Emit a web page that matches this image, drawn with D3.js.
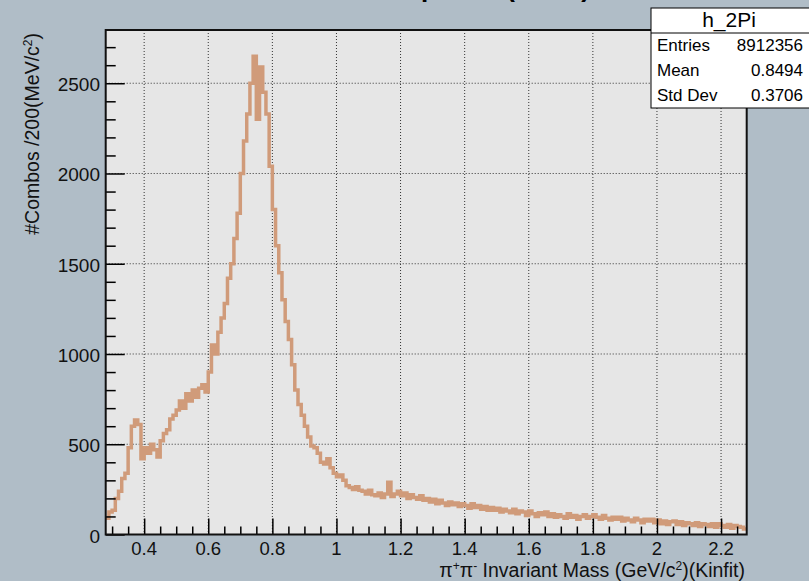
<!DOCTYPE html>
<html>
<head>
<meta charset="utf-8">
<script src="https://cdn.jsdelivr.net/npm/d3@7"></script>
<style>
  body { margin: 0; background: #b0bdc7; }
  svg { display: block; font-family: 'Liberation Sans', Arial, sans-serif; }
</style>
</head>
<body>
<div id="chart"></div>
<script>
// histogram h_2Pi, 200 bins of 0.01 GeV from 0.28 to 2.28
var binStart = 0.28
var binWidth = 0.01
var counts = [
  90, 125, 135, 200, 240, 310, 340, 480, 600, 635,
  610, 420, 480, 450, 500, 470, 430, 520, 560, 580,
  640, 660, 690, 740, 700, 780, 740, 800, 760, 810,
  830, 790, 900, 1050, 1000, 1120, 1200, 1280, 1420, 1500,
  1640, 1780, 2000, 2180, 2330, 2500, 2650, 2300, 2590, 2450,
  2330, 2040, 1800, 1600, 1450, 1300, 1180, 1080, 940, 800,
  720, 660, 600, 540, 490, 480, 450, 400, 390, 420,
  370, 340, 320, 330, 300, 270, 260, 250, 265, 245,
  240, 225, 245, 220, 215, 230, 205, 225, 290, 210,
  225, 240, 215, 230, 200, 220, 205, 195, 215, 190,
  200, 180, 195, 170, 190, 175, 160, 180, 165, 175,
  155, 170, 160, 145, 170, 150, 160, 140, 155, 135,
  150, 135, 145, 125, 140, 130, 120, 140, 115, 130,
  125, 105, 130, 115, 100, 120, 110, 125, 100, 115,
  95, 110, 100, 90, 115, 95, 105, 85, 100, 110,
  90, 100, 110, 95, 85, 105, 90, 80, 95, 85,
  95, 75, 90, 80, 70, 90, 80, 65, 85, 75,
  85, 65, 80, 60, 75, 55, 70, 75, 55, 70,
  50, 65, 60, 50, 65, 45, 60, 55, 45, 60,
  40, 60, 50, 40, 55, 35, 50, 45, 40, 30
]

// axis ticks
var xMajor = [0.4, 0.6, 0.8, 1, 1.2, 1.4, 1.6, 1.8, 2, 2.2]
var yMajor = [0, 500, 1000, 1500, 2000, 2500]

// stats box
var statsTitle = 'h_2Pi'
var statsNames = ['Entries', 'Mean', 'Std Dev']
var statsValues = ['8912356', '0.8494', '0.3706']

var W = 809, H = 581
var frame = { left: 105.7, right: 746.7, top: 30, bottom: 534.5 }

var svg = d3.select('#chart').append('svg')
  .attr('width', W)
  .attr('height', H)

svg.append('rect')
  .attr('width', W).attr('height', H)
  .attr('fill', '#b0bdc7')

// title, mostly above the top of the canvas like the reference
var title = svg.append('text')
  .attr('y', -3)
  .attr('font-size', 26)
  .attr('font-weight', 'bold')
  .attr('fill', '#000')
  .text('\u03c0\u207a\u03c0\u207b Mass Spectra (Kinfit)')
var probe = svg.append('text').attr('font-size', 26).attr('font-weight', 'bold')
  .text('\u03c0\u207a\u03c0\u207b Mass S')
var pre = probe.node().getComputedTextLength()
probe.remove()
title.attr('x', 421 - pre)

// scales
var x = d3.scaleLinear()
  .domain([binStart, binStart + binWidth * counts.length])
  .range([frame.left, frame.right])
var y = d3.scaleLinear()
  .domain([0, 2795])
  .range([frame.bottom, frame.top])

// plot area
svg.append('rect')
  .attr('x', frame.left).attr('y', frame.top)
  .attr('width', frame.right - frame.left)
  .attr('height', frame.bottom - frame.top)
  .attr('fill', '#e6e6e6')

// grid lines
svg.append('g')
  .selectAll('line')
  .data(xMajor)
  .enter().append('line')
  .attr('x1', function(d) { return x(d) }).attr('x2', function(d) { return x(d) })
  .attr('y1', frame.top).attr('y2', frame.bottom)
  .attr('stroke', '#333').attr('stroke-width', 1).attr('stroke-dasharray', '1,2')
svg.append('g')
  .selectAll('line')
  .data(yMajor.filter(function(d) { return d > 0 }))
  .enter().append('line')
  .attr('y1', function(d) { return y(d) }).attr('y2', function(d) { return y(d) })
  .attr('x1', frame.left).attr('x2', frame.right)
  .attr('stroke', '#333').attr('stroke-width', 1).attr('stroke-dasharray', '1,2')

// histogram as a step line
var pts = counts.map(function(c, i) { return [binStart + i * binWidth, c] })
pts.push([binStart + counts.length * binWidth, counts[counts.length - 1]])

svg.append('clipPath').attr('id', 'clip')
  .append('rect')
  .attr('x', frame.left).attr('y', frame.top)
  .attr('width', frame.right - frame.left)
  .attr('height', frame.bottom - frame.top)

var line = d3.line()
  .x(function(d) { return x(d[0]) })
  .y(function(d) { return y(d[1]) })
  .curve(d3.curveStepAfter)

svg.append('path')
  .datum(pts)
  .attr('clip-path', 'url(#clip)')
  .attr('d', line)
  .attr('fill', 'none')
  .attr('stroke', '#d09b7a')
  .attr('stroke-width', 3.5)

// x axis: major and minor ticks
var xMinor = d3.range(0.3, 2.2801, 0.05).filter(function(v) {
  return xMajor.every(function(m) { return Math.abs(m - v) > 1e-6 })
})
svg.append('g')
  .attr('transform', 'translate(0,' + frame.bottom + ')')
  .call(d3.axisTop(x).tickValues(xMajor).tickSize(16).tickFormat(''))
  .call(function(g) { g.select('.domain').remove() })
  .selectAll('line').attr('stroke', '#000').attr('stroke-width', 1.5)
svg.append('g')
  .attr('transform', 'translate(0,' + frame.bottom + ')')
  .call(d3.axisTop(x).tickValues(xMinor).tickSize(8).tickFormat(''))
  .call(function(g) { g.select('.domain').remove() })
  .selectAll('line').attr('stroke', '#000').attr('stroke-width', 1.5)

svg.append('g')
  .selectAll('text')
  .data(xMajor)
  .enter().append('text')
  .attr('x', function(d) { return x(d) })
  .attr('y', 555)
  .attr('text-anchor', 'middle')
  .attr('font-size', 18.5)
  .attr('fill', '#111')
  .text(function(d) { return d3.format('~g')(d) })

// y axis: major and minor ticks
var yMinor = d3.range(100, 2795, 100).filter(function(v) { return v % 500 != 0 })
svg.append('g')
  .attr('transform', 'translate(' + frame.left + ',0)')
  .call(d3.axisRight(y).tickValues(yMajor).tickSize(19).tickFormat(''))
  .call(function(g) { g.select('.domain').remove() })
  .selectAll('line').attr('stroke', '#000').attr('stroke-width', 1.5)
svg.append('g')
  .attr('transform', 'translate(' + frame.left + ',0)')
  .call(d3.axisRight(y).tickValues(yMinor).tickSize(10).tickFormat(''))
  .call(function(g) { g.select('.domain').remove() })
  .selectAll('line').attr('stroke', '#000').attr('stroke-width', 1.5)

svg.append('g')
  .selectAll('text')
  .data(yMajor)
  .enter().append('text')
  .attr('x', 100)
  .attr('y', function(d) { return y(d) + 8 })
  .attr('text-anchor', 'end')
  .attr('font-size', 19)
  .attr('fill', '#111')
  .text(function(d) { return d })

// frame border
svg.append('rect')
  .attr('x', frame.left).attr('y', frame.top)
  .attr('width', frame.right - frame.left)
  .attr('height', frame.bottom - frame.top)
  .attr('fill', 'none')
  .attr('stroke', '#111')
  .attr('stroke-width', 2)

// axis titles
var xt = svg.append('text')
  .attr('x', 745)
  .attr('y', 577)
  .attr('text-anchor', 'end')
  .attr('font-size', 19.5)
  .attr('fill', '#111')
xt.append('tspan').text('\u03c0')
xt.append('tspan').attr('font-size', 12).attr('dy', -7).text('+')
xt.append('tspan').attr('dy', 7).text('\u03c0')
xt.append('tspan').attr('font-size', 12).attr('dy', -7).text('-')
xt.append('tspan').attr('dy', 7).text(' Invariant Mass (GeV/c')
xt.append('tspan').attr('font-size', 12).attr('dy', -7).text('2')
xt.append('tspan').attr('dy', 7).text(')(Kinfit)')

var yt = svg.append('text')
  .attr('transform', 'translate(39,33) rotate(-90)')
  .attr('text-anchor', 'end')
  .attr('font-size', 19.5)
  .attr('fill', '#111')
yt.append('tspan').text('#Combos /200(MeV/c')
yt.append('tspan').attr('font-size', 12).attr('dy', -7).text('2')
yt.append('tspan').attr('dy', 7).text(')')

// stats box
var box = svg.append('g')
box.append('rect')
  .attr('x', 651).attr('y', 8)
  .attr('width', 170).attr('height', 100)
  .attr('fill', '#fff')
  .attr('stroke', '#000')
  .attr('stroke-width', 1)
box.append('line')
  .attr('x1', 651).attr('x2', 809)
  .attr('y1', 33).attr('y2', 33)
  .attr('stroke', '#000')
box.append('text')
  .attr('x', 729).attr('y', 27)
  .attr('text-anchor', 'middle')
  .attr('font-size', 21)
  .text(statsTitle)
box.selectAll('.sname')
  .data(statsNames)
  .enter().append('text')
  .attr('class', 'sname')
  .attr('x', 657)
  .attr('y', function(d, i) { return 51 + i * 25 })
  .attr('font-size', 17)
  .text(function(d) { return d })
box.selectAll('.sval')
  .data(statsValues)
  .enter().append('text')
  .attr('class', 'sval')
  .attr('x', 803)
  .attr('y', function(d, i) { return 51 + i * 25 })
  .attr('text-anchor', 'end')
  .attr('font-size', 17)
  .text(function(d) { return d })
</script>
</body>
</html>
